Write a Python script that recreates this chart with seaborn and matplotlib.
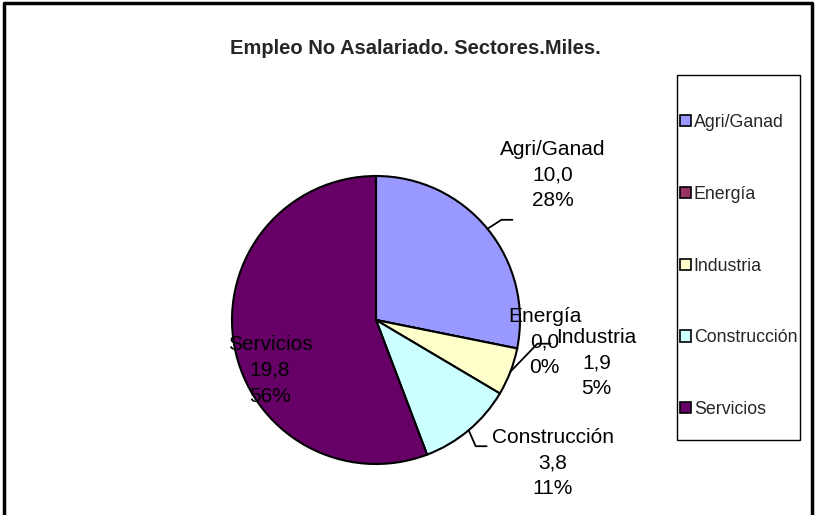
import numpy as np
import matplotlib
matplotlib.use("Agg")
import matplotlib.pyplot as plt
from matplotlib import font_manager
from matplotlib.patches import Patch, Rectangle
import seaborn as sns

# Data
sectors = ["Agri/Ganad", "Energía", "Industria", "Construcción", "Servicios"]
values = [10.0, 0.0, 1.9, 3.8, 19.8]
colors = ["#9999FF", "#993366", "#FFFFCC", "#CCFFFF", "#660066"]
title = "Empleo No Asalariado. Sectores.Miles."

sns.set_theme(style="white")
names = {f.name for f in font_manager.fontManager.ttflist}
font = "Liberation Sans Narrow" if "Liberation Sans Narrow" in names else "Liberation Sans"
plt.rcParams["font.family"] = [font, "DejaVu Sans"]

W, H = 817, 515
fig = plt.figure(figsize=(W / 100, H / 100), dpi=100)
ax = fig.add_axes([0, 0, 1, 1])

# pixel-like coordinates, y pointing up
cx, cy, R = 376, H - 320, 144
wedges, _ = ax.pie(values, colors=colors, startangle=90, counterclock=False,
                   center=(cx, cy), radius=R,
                   wedgeprops=dict(edgecolor="black", linewidth=1.5))
ax.set_xlim(0, W)
ax.set_ylim(0, H)
ax.set_aspect("equal")
ax.axis("off")

total = sum(values)
fs = 15
# label placement: radius factor and angle tweak (deg) per slice
rfac = [1.59, 1.18, 1.56, 1.58, 0.815]
atwk = [0.0, 4.0, 10.0, 11.0, 15.0]
# leader elbows in screen offsets: (dx, dy down, horizontal run)
elbows = [(14, -9, 11), None, (27, -28, 13), (7, 16, 11), None]
for i, w in enumerate(wedges):
    mid = np.deg2rad((w.theta1 + w.theta2) / 2)
    ang = mid + np.deg2rad(atwk[i])
    lx = cx + rfac[i] * R * np.cos(ang)
    ly = cy + rfac[i] * R * np.sin(ang)
    txt = f"{sectors[i]}\n{values[i]:.1f}\n{values[i] / total:.0%}".replace(".", ",")
    ax.text(lx, ly, txt, ha="center", va="center", fontsize=fs,
            linespacing=1.45, color="black")
    if elbows[i]:
        ex = cx + R * np.cos(mid)
        ey = cy + R * np.sin(mid)
        dx, dy, hx = elbows[i]
        ky = ey - dy
        ax.plot([ex, ex + dx, ex + dx + hx], [ey, ky, ky], color="black", lw=1.3)

fig.text(415 / W, 1 - 48 / H, title, ha="center", va="center",
         fontsize=14.5, fontweight="bold")

# legend box
ax.add_patch(Rectangle((677, H - 440), 123, 365, facecolor="white",
                       edgecolor="black", linewidth=1.0))
handles = [Patch(facecolor=c, edgecolor="black", linewidth=1.2) for c in colors]
leg = fig.legend(handles, sectors, loc="upper left", bbox_to_anchor=(680 / W, 1 - 114 / H),
                 frameon=False, fontsize=12.8, handlelength=0.6,
                 handleheight=0.6, handletextpad=0.18, labelspacing=3.08,
                 borderpad=0, borderaxespad=0)

# outer chart frame (no bottom edge)
ax.plot([4, 4, 812, 812], [0, H - 3, H - 3, 0], color="black", lw=2.5, clip_on=False)

fig.savefig("out.png", dpi=100)
